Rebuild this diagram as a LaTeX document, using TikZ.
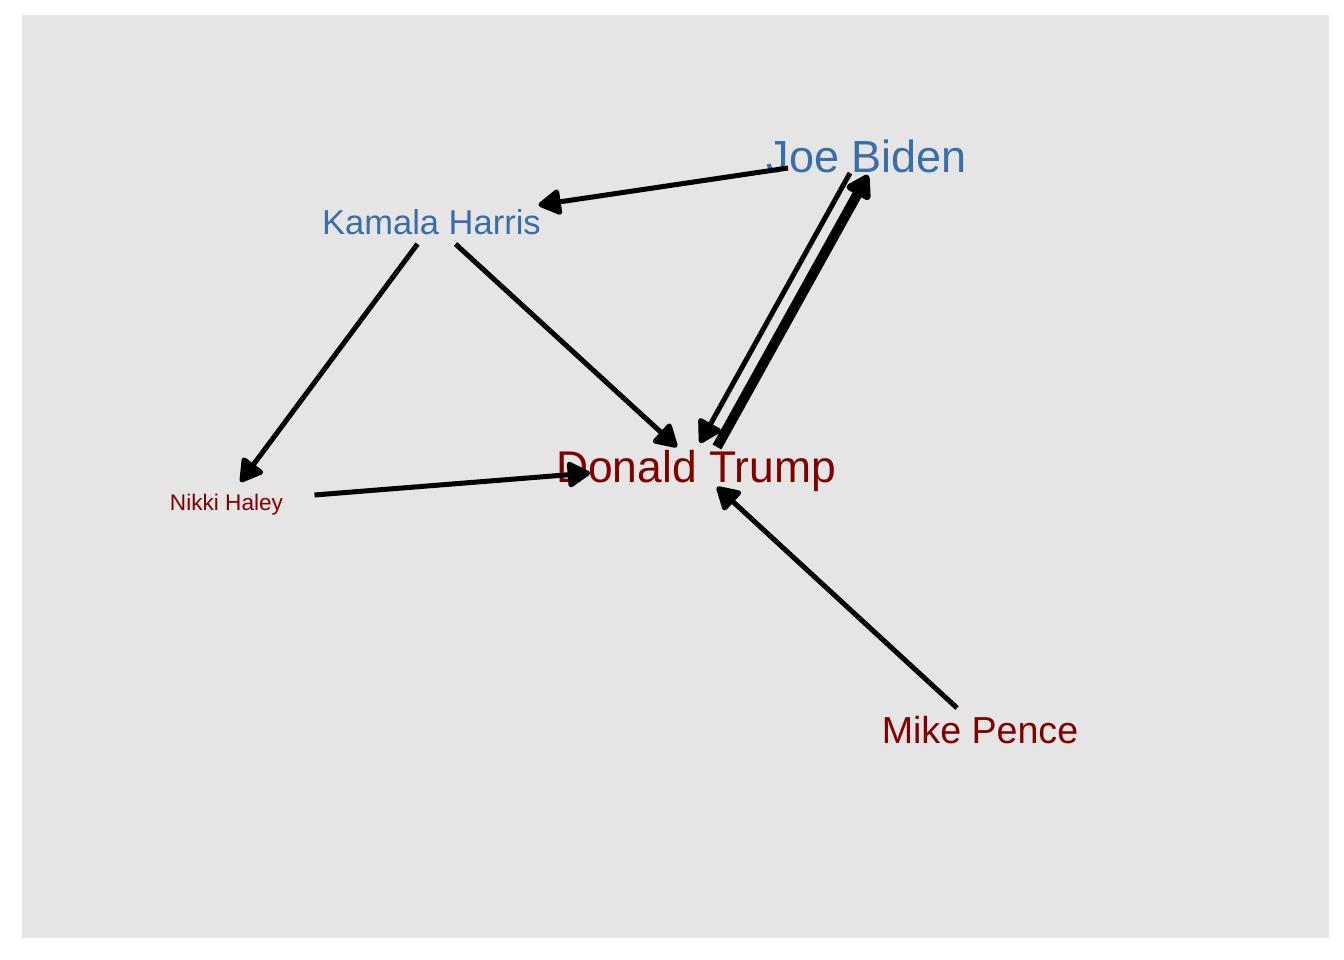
\documentclass[tikz,border=0pt]{standalone}
\usepackage{fontspec}
\setmainfont{Liberation Sans}
\usetikzlibrary{arrows.meta,calc}
\definecolor{panelgray}{RGB}{229,229,229}
\definecolor{demblue}{RGB}{58,110,168}
\definecolor{repred}{RGB}{128,0,0}
\tikzset{
  lbl/.style={anchor=base,inner sep=0pt,outer sep=0pt},
  dem/.style={lbl,text=demblue},
  rep/.style={lbl,text=repred},
  edge/.style={draw=black,line width=5pt,line cap=butt,
    -{Triangle[length=25pt,width=28pt,round]}},
  thickedge/.style={draw=black,line width=10pt,line cap=butt,
    -{Triangle[length=26pt,width=30pt,round]}}
}
\begin{document}
\begin{tikzpicture}[x=1pt,y=-1pt]
\useasboundingbox (0,0) rectangle (1344,960);
\fill[panelgray] (22,15) rectangle (1329,938);
\node[dem] (biden) at (867,173) {\fontsize{45}{45}\selectfont Joe Biden};
\node[dem] (kamala) at (431.5,235) {\fontsize{34.5}{34.5}\selectfont Kamala Harris};
\node[rep] (trump) at (696,482) {\fontsize{44.4}{44.4}\selectfont Donald Trump};
\node[rep] (nikki) at (226.5,510) {\fontsize{22.6}{22.6}\selectfont Nikki Haley};
\node[rep] (mike) at (980,743) {\fontsize{37.6}{37.6}\selectfont Mike Pence};
\draw[edge] ($(biden.base)+(-79,-5)$) -- ($(kamala.base)+(107,-30)$);
\draw[edge] ($(kamala.base)+(-14,9)$) -- ($(nikki.base)+(14,-28)$);
\draw[edge] ($(kamala.base)+(24,9)$) -- ($(trump.base)+(-19,-35)$);
\draw[edge] ($(nikki.base)+(88,-15)$) -- ($(trump.base)+(-106,-9)$);
\draw[edge] ($(mike.base)+(-23,-35)$) -- ($(trump.base)+(21,5)$);
\draw[edge] ($(biden.base)+(-17,0)$) -- ($(trump.base)+(4,-39)$);
\draw[thickedge] ($(trump.base)+(21,-35)$) -- ($(biden.base)+(1,2)$);
\end{tikzpicture}
\end{document}
